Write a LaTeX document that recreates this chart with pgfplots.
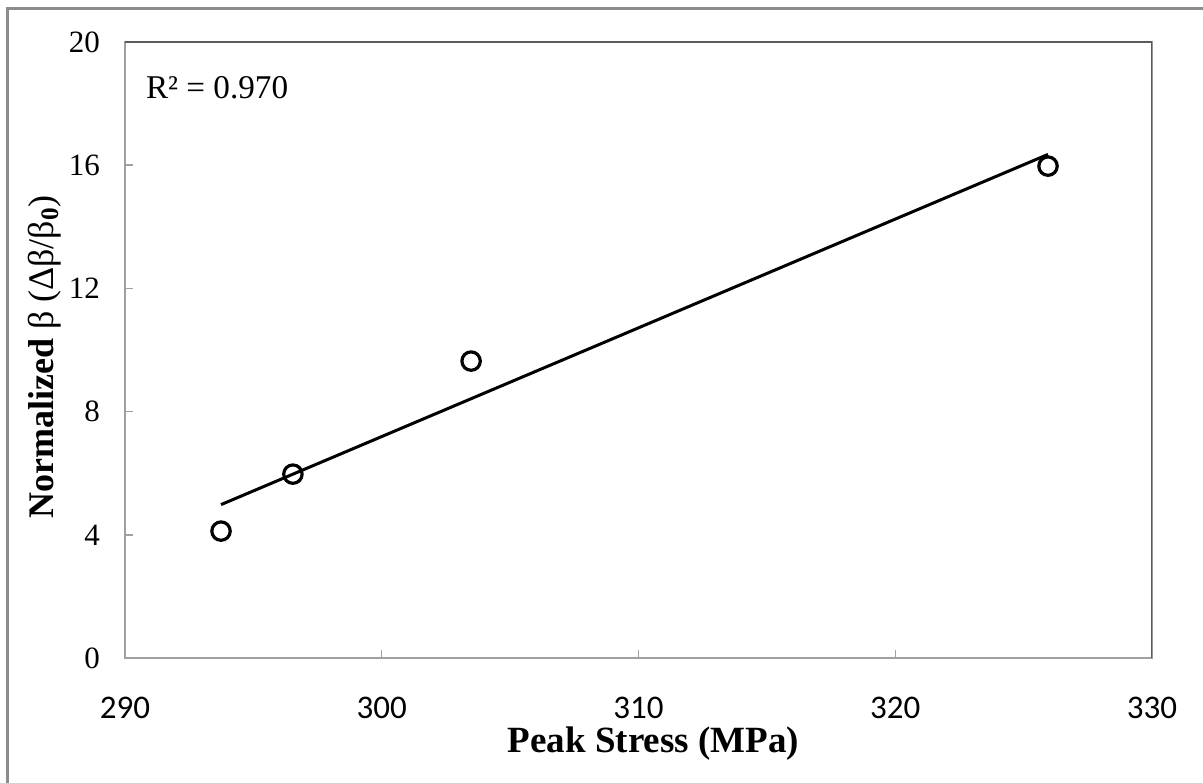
\documentclass[border=0pt]{standalone}
\usepackage{fontspec}
\setmainfont{Liberation Serif}
\newfontfamily\calibri{Carlito}
\usepackage{pgfplots}
\pgfplotsset{compat=1.18}
\definecolor{framegray}{HTML}{8C8C8C}
\definecolor{axgray}{HTML}{A0A0A0}
\definecolor{axdark}{HTML}{5A5A5A}

\begin{document}
\begin{tikzpicture}
  % outer chart frame (only top and left show in the picture)
  \draw[framegray, line width=1.5pt] (3.5pt,-20pt) -- (3.5pt,386.5pt) -- (620pt,386.5pt);
  \begin{axis}[
      at={(62.5pt,62pt)}, anchor=south west,
      scale only axis, width=513.5pt, height=308pt,
      xmin=290, xmax=330, ymin=0, ymax=20,
      xtick={290,300,...,330}, ytick={0,4,...,20},
      xtick pos=lower, ytick pos=left,
      tick align=inside, major tick length=4pt,
      tick style={axgray, line width=0.7pt},
      axis line style={axgray, line width=0.8pt},
      /pgf/number format/assume math mode=true,
      yticklabel style={font=\fontsize{15.5}{18}\selectfont, xshift=-9pt},
      xticklabel style={font=\calibri\fontsize{16.5}{19}\selectfont, yshift=-16pt},
      xlabel={\textbf{Peak Stress (MPa)}},
      xlabel style={font=\fontsize{18.5}{21}\selectfont, at={(axis description cs:0.5146,-0.1542)}, anchor=base},
      ylabel={\textbf{Normalized} β (Δβ/β\textsubscript{\textbf{0}})},
      ylabel style={font=\fontsize{18}{21}\selectfont, at={(axis description cs:-0.0701,0.4886)}, anchor=base},
    ]
    \draw[axdark, line width=0.7pt] (rel axis cs:0,1) -- (rel axis cs:1,1) -- (rel axis cs:1,0);
    \addplot[black, line width=1.5pt] coordinates {(293.74,4.98) (325.95,16.35)};
    \addplot[only marks, mark=o, mark size=4.6pt, mark options={line width=1.6pt}, black]
      coordinates {(293.74,4.12) (296.54,5.97) (303.48,9.64) (325.95,15.97)};
    \node[anchor=base west, font=\fontsize{16.6}{19}\selectfont] at (axis description cs:0.0136,0.9075) {R² = 0.970};
  \end{axis}
  \pgfresetboundingbox
  \useasboundingbox (0,0) rectangle (601.5pt,391pt);
\end{tikzpicture}
\end{document}
